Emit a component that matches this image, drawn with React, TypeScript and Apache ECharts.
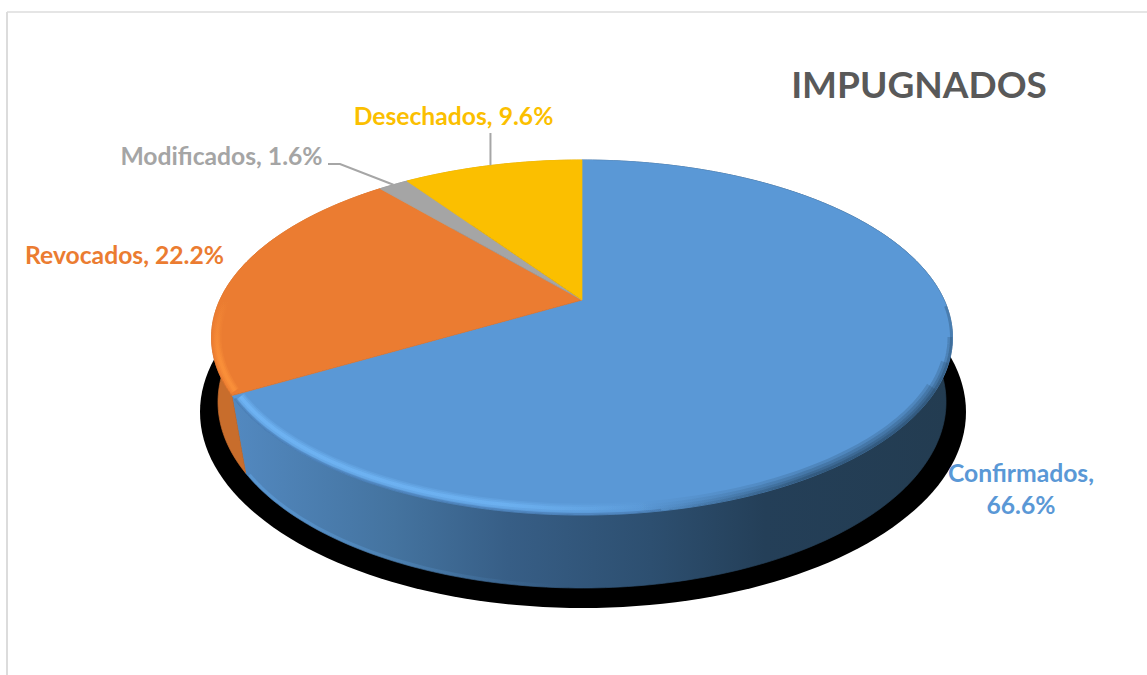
import React, { useEffect, useRef } from "react";
import * as echarts from "echarts";

const categories = ["Confirmados", "Revocados", "Modificados", "Desechados"];
const values = [66.6, 22.2, 1.6, 9.6];
const titleText = "IMPUGNADOS";

const colors = ["#5a98d6", "#eb7c31", "#a5a5a5", "#fbbf00"];
const wallColors: any[] = [null, "#c86d2c", "#8c8c8c", "#d4a200"];
const labelSpots = [
  { x: 1021, y: 488, align: "center", text: (c: string, v: string) => `${c},\n${v}` },
  { x: 124.5, y: 254, align: "center", text: (c: string, v: string) => `${c}, ${v}` },
  { x: 221.5, y: 155, align: "center", text: (c: string, v: string) => `${c}, ${v}` },
  { x: 453.5, y: 115.5, align: "center", text: (c: string, v: string) => `${c}, ${v}` },
];

const CX = 582;
const TOP = { cy: 337.5, a: 370.5, b: 177.5, p: 0.211 };
const BOT = { cy: 402, a: 364, b: 186, p: 0.15 };
const SHADOW = { cx: 583, cy: 412, a: 383, b: 196 };
const FONT = "Lato, Carlito, sans-serif";

const total = values.reduce((s, v) => s + v, 0);
const cumulative = values.map((_, i) => values.slice(0, i).reduce((s, v) => s + v, 0));
const startAngle = (i: number) => (cumulative[i] / total) * 360;
const endAngle = (i: number) => ((cumulative[i] + values[i]) / total) * 360;

type E = { cy: number; a: number; b: number; p: number };
function rim(deg: number, e: E, inset = 0): number[] {
  const t = (deg * Math.PI) / 180;
  const u = Math.sin(t);
  const v = -Math.cos(t);
  const d = 1 - e.p * v;
  const k = Math.sqrt(1 - e.p * e.p);
  const x = (e.a * k * u) / d;
  const y = e.cy - e.b * e.p + (e.b * k * k * v) / d - e.cy;
  return [CX + (x * (e.a - inset)) / e.a, e.cy + (y * (e.b - inset)) / e.b];
}
function arc(from: number, to: number, e: E, inset = 0): number[][] {
  const pts: number[][] = [];
  const n = Math.max(2, Math.ceil(Math.abs(to - from)));
  for (let i = 0; i <= n; i++) pts.push(rim(from + ((to - from) * i) / n, e, inset));
  return pts;
}
const apex = () => [CX, TOP.cy - TOP.b * TOP.p];
const grad = (x0: number, y0: number, x1: number, y1: number, stops: [number, string][]) =>
  new echarts.graphic.LinearGradient(
    x0, y0, x1, y1,
    stops.map(([offset, color]) => ({ offset, color })),
    true
  );
const blueWall = () =>
  grad(238, 0, 950, 0, [
    [0, "#5288bf"],
    [0.22, "#44739f"],
    [0.38, "#375e86"],
    [0.58, "#2d4f70"],
    [0.74, "#243f58"],
    [1, "#233c51"],
  ]);

function strokeLayers(from: number, to: number, layers: number[][], inset: number, color: any) {
  return layers.map(([w, op, shift, ownInset]) => ({
    type: "polyline",
    shape: { points: arc(from + (shift || 0), to, TOP, ownInset ?? inset) },
    style: { stroke: color, fill: "none", lineWidth: w, opacity: op, lineCap: "butt" },
    silent: true,
  }));
}

function shadowItem() {
  const pts: number[][] = [];
  for (let d = 0; d < 360; d += 2) {
    const t = (d * Math.PI) / 180;
    pts.push([SHADOW.cx + SHADOW.a * Math.cos(t), SHADOW.cy + SHADOW.b * Math.sin(t)]);
  }
  return { type: "polygon", shape: { points: pts }, style: { fill: "#000" } };
}

function wallItem(params: any) {
  const i = params.dataIndex;
  const s = startAngle(i);
  const e = endAngle(i);
  const points = [...arc(s, e, TOP), ...arc(e, s, BOT)];
  const fill = i === 0 ? blueWall() : wallColors[i];
  const children: any[] = [
    { type: "polygon", shape: { points }, style: { fill, stroke: fill, lineWidth: 0.7 } },
  ];
  if (i === 0) {
    children.push({
      type: "polyline",
      shape: { points: arc(176, 239, BOT, 2) },
      style: {
        fill: "none", lineWidth: 3, opacity: 0.45,
        stroke: grad(240, 0, 560, 0, [[0, "rgba(100,170,235,1)"], [1, "rgba(100,170,235,0)"]]),
      },
    });
  }
  return { type: "group", children };
}

function topItem(params: any) {
  const i = params.dataIndex;
  const points = [apex(), ...arc(startAngle(i), endAngle(i), TOP)];
  return {
    type: "polygon",
    shape: { points },
    style: { fill: colors[i], stroke: colors[i], lineWidth: 0.7, lineJoin: "round" },
  };
}

function bevelItem(params: any) {
  const i = params.dataIndex;
  const children: any[] = [];
  if (i === 0) {
    const e = endAngle(0);
    const light = grad(232, 0, 650, 0, [
      [0, "rgba(118,190,255,1)"],
      [0.65, "rgba(118,190,255,0.85)"],
      [1, "rgba(118,190,255,0)"],
    ]);
    children.push(...strokeLayers(150, e - 1, [[10, 0.22], [7, 0.3], [3.5, 0.45]], 6.5, light));
    const edge = grad(240, 0, 700, 0, [
      [0, "rgba(62,105,155,0.55)"],
      [1, "rgba(62,105,155,0.55)"],
    ]);
    children.push(...strokeLayers(170, e - 1, [[2.5, 0.7]], 0.8, edge));
    const dark = grad(640, 0, 810, 0, [
      [0, "rgba(28,56,80,0)"],
      [1, "rgba(28,56,80,1)"],
    ]);
    children.push(
      ...strokeLayers(92, 178, [
        [11, 0.18, 26, 5.5],
        [8, 0.2, 18, 4],
        [5, 0.22, 10, 2.5],
        [2.5, 0.28, 0, 1.25],
      ], 3, dark)
    );
  }
  if (i === 1) {
    const light = grad(0, 300, 0, 360, [
      [0, "rgba(255,150,60,0)"],
      [1, "rgba(255,150,60,1)"],
    ]);
    children.push(...strokeLayers(endAngle(0) + 1, 292, [[9, 0.25], [6, 0.35], [3, 0.4]], 5.5, light));
  }
  return { type: "group", children };
}

function labelItem(params: any) {
  const i = params.dataIndex;
  const spot = labelSpots[i];
  const mid = (startAngle(i) + endAngle(i)) / 2;
  const end = rim(mid, TOP);
  const children: any[] = [
    {
      type: "text",
      style: {
        x: spot.x, y: spot.y,
        text: spot.text(categories[i], `${values[i].toFixed(1)}%`),
        fill: colors[i],
        font: `bold 24.7px ${FONT}`,
        lineHeight: 32,
        align: spot.align,
        verticalAlign: "middle",
      },
    },
  ];
  const line = { stroke: "#a6a6a6", lineWidth: 2, fill: "none" };
  if (i === 2) {
    children.push({ type: "polyline", shape: { points: [[328, 164], [340, 164], end] }, style: line });
  }
  if (i === 3) {
    children.push({ type: "polyline", shape: { points: [[end[0] - 2, 133], [end[0] - 2, end[1]]] }, style: line });
  }
  return { type: "group", children };
}

export default function App() {
  const ref = useRef<HTMLDivElement>(null);
  useEffect(() => {
    document.body.style.margin = "0";
    const chart = echarts.init(ref.current!, null, { renderer: "svg" });
    const layer = (name: string, renderItem: any, z: number, data: any[] = values) => ({
      type: "custom",
      name,
      coordinateSystem: "none",
      renderItem,
      data,
      z,
      silent: true,
      animation: false,
    });
    chart.setOption({
      animation: false,
      backgroundColor: "#ffffff",
      title: {
        text: titleText,
        left: 914,
        top: 78,
        textAlign: "center",
        textVerticalAlign: "middle",
        textStyle: { fontFamily: FONT, fontWeight: "bold", fontSize: 37, color: "#595959" },
      },
      graphic: [
        { type: "line", shape: { x1: 7, y1: 12, x2: 1147, y2: 12 }, style: { stroke: "#dcdcdc", lineWidth: 1.3 } },
        { type: "line", shape: { x1: 7, y1: 12, x2: 7, y2: 675 }, style: { stroke: "#dcdcdc", lineWidth: 2 } },
      ],
      series: [
        layer("shadow", shadowItem, 1, [1]),
        layer("walls", wallItem, 2),
        layer("tops", topItem, 3),
        layer("bevel", bevelItem, 4),
        layer("labels", labelItem, 5),
      ],
    });
    return () => chart.dispose();
  }, []);
  return <div ref={ref} style={{ position: "absolute", left: 0, top: 0, width: 1147, height: 675 }} />;
}
